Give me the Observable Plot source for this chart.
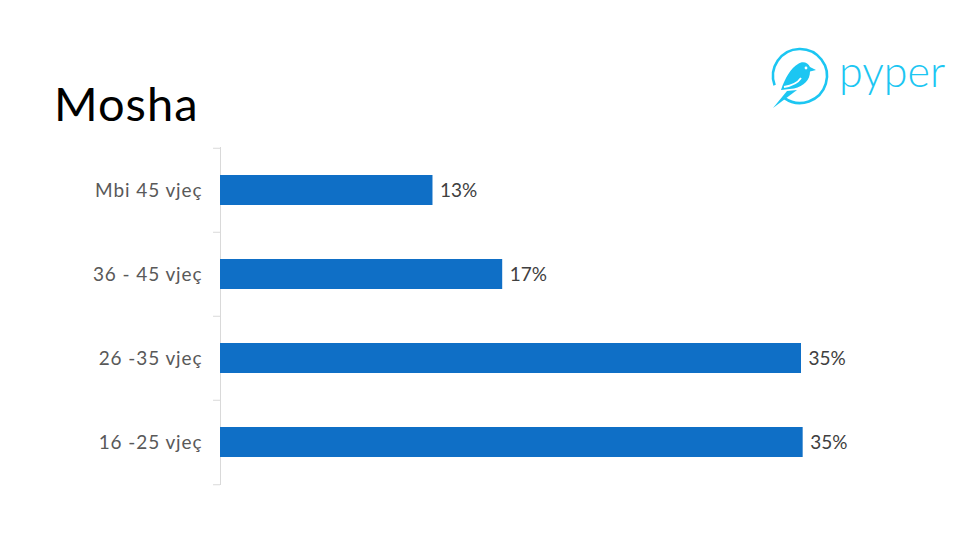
<!DOCTYPE html>
<html>
<head>
<meta charset="utf-8">
<script src="https://cdn.jsdelivr.net/npm/d3@7"></script>
<script src="https://cdn.jsdelivr.net/npm/@observablehq/plot@0.6"></script>
<style>
  html, body { margin: 0; padding: 0; background: #fff; }
  #wrap { position: relative; width: 980px; height: 551px; overflow: hidden; }
  #title { position: absolute; left: 54px; top: 80px; font-family: Lato, sans-serif; font-size: 47px; color: #000; line-height: 1; letter-spacing: 1px; }
  #logo { position: absolute; left: 760px; top: 40px; }
  #chart { position: absolute; left: 0; top: 0; }
</style>
</head>
<body>
<div id="wrap">
  <div id="chart"></div>
  <div id="title">Mosha</div>
  <svg id="logo" width="210" height="80" viewBox="0 0 210 80">
    <path d="M 14.6 45.2 A 27 27 0 1 1 24.5 58.1" fill="none" stroke="#1cc6f2" stroke-width="2.6"/>
    <path d="M 21 50 C 25 38 31 28 38 24 C 42 21 48 22 50 27 L 56 30 L 50 31.5 C 50 40 44 46 34 48.5 Z" fill="#1cc6f2"/>
    <path d="M 27 51 L 37 50 L 13 68 Z" fill="#1cc6f2"/>
    <path d="M 24 47 C 30 46 37 44 41 38" fill="none" stroke="#fff" stroke-width="1.8"/>
    <circle cx="46" cy="28" r="1.4" fill="#fff"/>
    <text x="79" y="47" font-family="Lato, sans-serif" font-weight="300" font-size="43" fill="#1cc6f2">pyper</text>
  </svg>
</div>
<script>
const categories = ["Mbi 45 vjeç", "36 - 45 vjeç", "26 -35 vjeç", "16 -25 vjeç"];
const values = [12.8, 17.0, 35.0, 35.1];
const labels = ["13%", "17%", "35%", "35%"];

const data = categories.map((c, i) => ({category: c, value: values[i], label: labels[i]}));
const step = 84.5;

const plot = Plot.plot({
  width: 980,
  height: 551,
  marginTop: 147,
  marginBottom: 66,
  marginLeft: 220,
  marginRight: 13,
  style: {fontFamily: "Lato, sans-serif", background: "transparent"},
  x: {domain: [0, 45], axis: null},
  y: {domain: categories, paddingInner: 0.645, paddingOuter: 0.3225, label: null},
  marks: [
    Plot.ruleX([0], {stroke: "#d9d9d9", strokeWidth: 1}),
    Plot.ruleY(categories, {y: d => d, x1: -0.42, x2: 0, dy: -step / 2, stroke: "#d9d9d9"}),
    Plot.ruleY(categories.slice(-1), {y: d => d, x1: -0.42, x2: 0, dy: step / 2, stroke: "#d9d9d9"}),
    Plot.barX(data, {x: "value", y: "category", fill: "#0F6FC6"}),
    Plot.text(data, {x: "value", y: "category", text: "label", textAnchor: "start", dx: 7, fontSize: 19, fill: "#404040", style: "letter-spacing:0.3px"}),
    Plot.axisY({tickSize: 0, tickPadding: 18, fontSize: 19, color: "#595959", label: null})
  ]
});
plot.querySelectorAll("[aria-label='y-axis tick label'] text").forEach(t => t.setAttribute("letter-spacing", "0.9"));
document.getElementById("chart").appendChild(plot);
</script>
</body>
</html>
